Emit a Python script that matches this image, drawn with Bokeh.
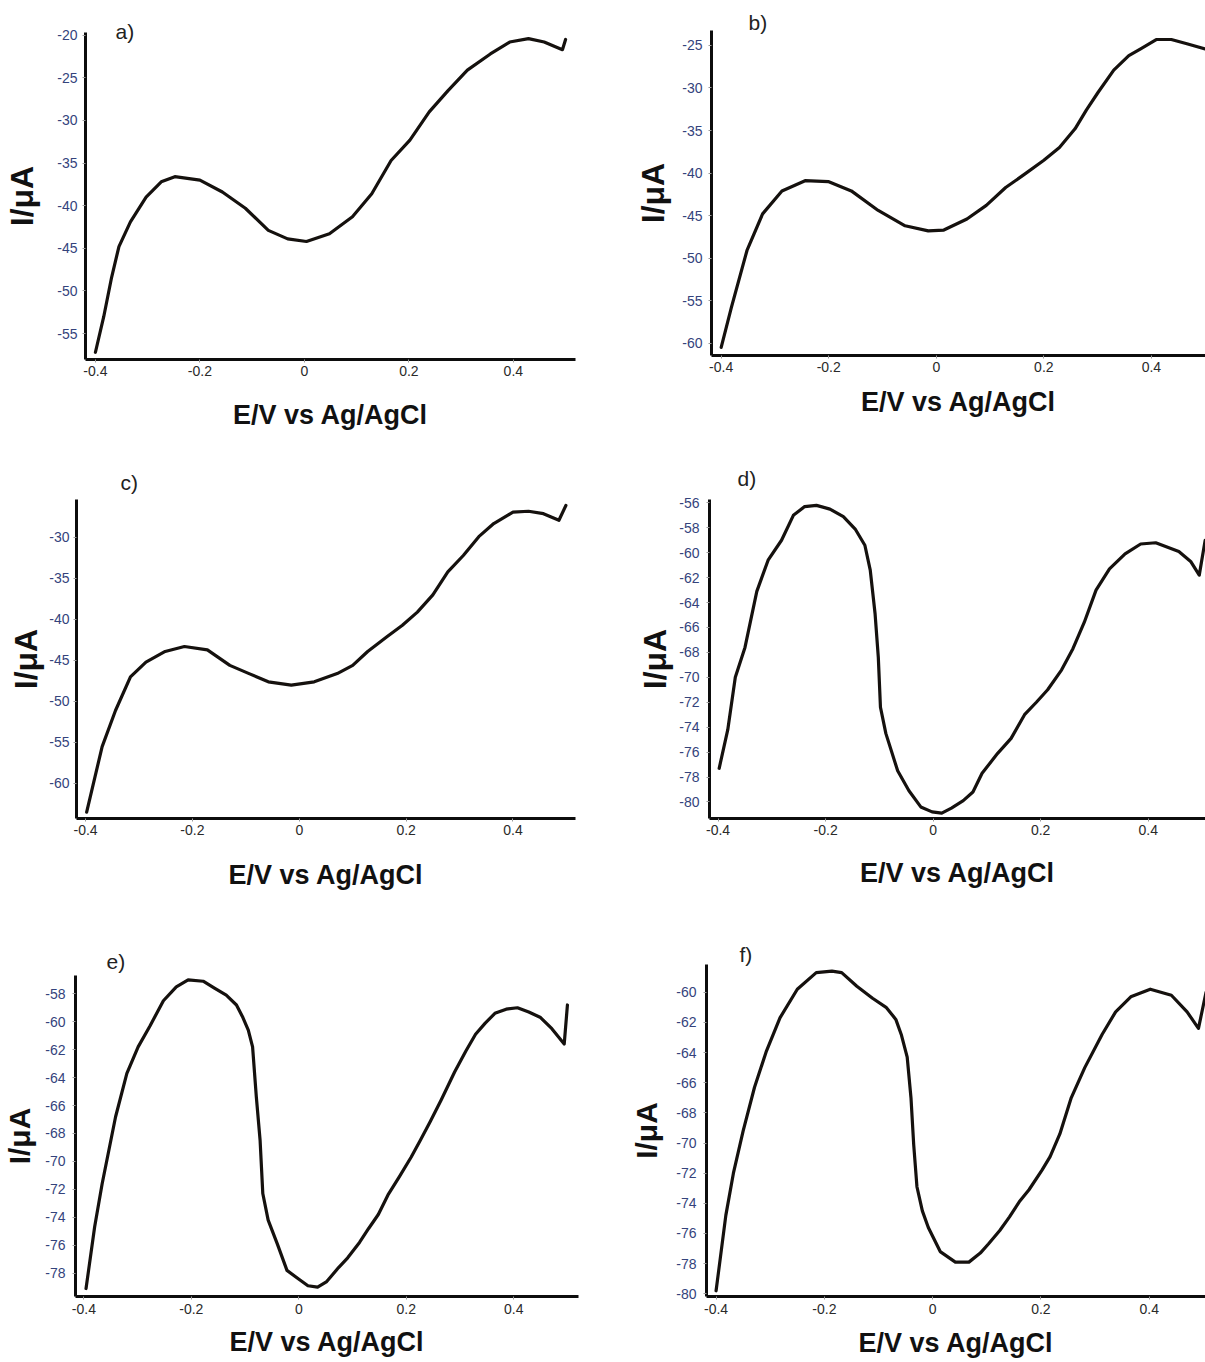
from bokeh.plotting import figure
from bokeh.layouts import column, row
from bokeh.models import Range1d, Title, FixedTicker
from bokeh.embed import file_html
from bokeh.resources import INLINE

# ---------------- data ----------------
x_ticks = [-0.4, -0.2, 0.0, 0.2, 0.4]
x_tick_labels = ["-0.4", "-0.2", "0", "0.2", "0.4"]

a_x = [-0.400, -0.384, -0.369, -0.355, -0.333, -0.303, -0.274, -0.248, -0.200, -0.157, -0.113, -0.069, -0.032, 0.004,
       0.048, 0.092, 0.129, 0.166, 0.202, 0.239, 0.275, 0.312, 0.356, 0.393, 0.429, 0.459, 0.494, 0.500]
a_y = [-57.2, -53.0, -48.4, -44.8, -41.9, -39.0, -37.2, -36.6, -37.0, -38.4, -40.3, -42.9, -43.9, -44.2,
       -43.3, -41.3, -38.6, -34.7, -32.3, -29.0, -26.5, -24.1, -22.2, -20.8, -20.4, -20.8, -21.7, -20.5]
a_yticks = [-55, -50, -45, -40, -35, -30, -25, -20]

b_x = [-0.400, -0.381, -0.352, -0.323, -0.287, -0.244, -0.201, -0.158, -0.108, -0.058, -0.015, 0.014, 0.057, 0.093,
       0.129, 0.165, 0.200, 0.229, 0.258, 0.279, 0.301, 0.330, 0.358, 0.380, 0.409, 0.437, 0.466, 0.500]
b_y = [-60.5, -55.8, -49.1, -44.8, -42.1, -40.9, -41.0, -42.1, -44.4, -46.2, -46.8, -46.7, -45.4, -43.8,
       -41.7, -40.1, -38.5, -37.0, -34.8, -32.6, -30.5, -27.9, -26.2, -25.4, -24.3, -24.3, -24.8, -25.4]
b_yticks = [-60, -55, -50, -45, -40, -35, -30, -25]

c_x = [-0.398, -0.369, -0.344, -0.316, -0.287, -0.251, -0.215, -0.172, -0.130, -0.094, -0.058, -0.015, 0.028, 0.071,
       0.100, 0.128, 0.164, 0.193, 0.221, 0.250, 0.278, 0.307, 0.336, 0.364, 0.400, 0.429, 0.457, 0.486, 0.499]
c_y = [-63.5, -55.5, -51.1, -47.0, -45.2, -43.9, -43.3, -43.7, -45.6, -46.6, -47.6, -48.0, -47.6, -46.6,
       -45.6, -43.9, -42.1, -40.7, -39.1, -37.0, -34.2, -32.2, -29.9, -28.3, -26.9, -26.8, -27.1, -27.9, -26.1]
c_yticks = [-60, -55, -50, -45, -40, -35, -30]

d_x = [-0.398, -0.382, -0.368, -0.350, -0.328, -0.307, -0.282, -0.260, -0.239, -0.217, -0.192, -0.167, -0.145, -0.127,
       -0.117, -0.108, -0.102, -0.098, -0.088, -0.066, -0.045, -0.023, -0.002, 0.016, 0.034, 0.056, 0.074, 0.091,
       0.120, 0.145, 0.170, 0.192, 0.213, 0.239, 0.260, 0.281, 0.303, 0.328, 0.357, 0.386, 0.414, 0.457, 0.479,
       0.495, 0.506]
d_y = [-77.3, -74.2, -70.0, -67.6, -63.1, -60.6, -59.0, -57.0, -56.3, -56.2, -56.5, -57.1, -58.1, -59.4,
       -61.4, -64.9, -68.4, -72.4, -74.5, -77.5, -79.1, -80.4, -80.8, -80.9, -80.5, -79.9, -79.2, -77.7,
       -76.1, -74.9, -73.0, -72.0, -71.0, -69.4, -67.7, -65.6, -63.0, -61.3, -60.1, -59.3, -59.2, -59.9, -60.7,
       -61.8, -59.0]
d_yticks = [-80, -78, -76, -74, -72, -70, -68, -66, -64, -62, -60, -58, -56]

e_x = [-0.396, -0.380, -0.366, -0.341, -0.320, -0.299, -0.277, -0.252, -0.228, -0.206, -0.178, -0.157, -0.135, -0.116,
       -0.104, -0.094, -0.086, -0.079, -0.072, -0.067, -0.057, -0.040, -0.022, -0.001, 0.017, 0.035, 0.052, 0.074,
       0.091, 0.113, 0.130, 0.148, 0.166, 0.187, 0.209, 0.226, 0.244, 0.265, 0.290, 0.311, 0.329, 0.347, 0.365,
       0.386, 0.407, 0.428, 0.450, 0.471, 0.494, 0.500]
e_y = [-79.1, -74.7, -71.6, -66.8, -63.7, -61.8, -60.3, -58.5, -57.5, -57.0, -57.1, -57.6, -58.1, -58.8,
       -59.7, -60.6, -61.8, -65.4, -68.5, -72.3, -74.2, -75.9, -77.8, -78.4, -78.9, -79.0, -78.6, -77.6,
       -76.9, -75.8, -74.8, -73.8, -72.4, -71.1, -69.7, -68.5, -67.2, -65.6, -63.6, -62.1, -60.9, -60.1, -59.4,
       -59.1, -59.0, -59.3, -59.7, -60.5, -61.6, -58.8]
e_yticks = [-78, -76, -74, -72, -70, -68, -66, -64, -62, -60, -58]

f_x = [-0.400, -0.382, -0.368, -0.350, -0.329, -0.307, -0.282, -0.250, -0.215, -0.186, -0.168, -0.140, -0.111, -0.086,
       -0.068, -0.058, -0.047, -0.040, -0.035, -0.029, -0.019, -0.008, 0.014, 0.042, 0.067, 0.088, 0.103, 0.124,
       0.142, 0.160, 0.178, 0.202, 0.217, 0.235, 0.256, 0.281, 0.313, 0.338, 0.366, 0.402, 0.441, 0.470, 0.491,
       0.505]
f_y = [-79.8, -74.8, -72.0, -69.2, -66.3, -63.9, -61.7, -59.8, -58.7, -58.6, -58.7, -59.6, -60.4, -61.0,
       -61.8, -62.8, -64.3, -67.0, -70.1, -72.9, -74.5, -75.6, -77.2, -77.9, -77.9, -77.3, -76.7, -75.8,
       -74.9, -73.9, -73.1, -71.8, -70.9, -69.4, -67.0, -65.0, -62.8, -61.3, -60.3, -59.8, -60.2, -61.3, -62.4,
       -60.0]
f_yticks = [-80, -78, -76, -74, -72, -70, -68, -66, -64, -62, -60]

panel_letters = ["a)", "b)", "c)", "d)", "e)", "f)"]
x_title = "E/V vs Ag/AgCl"
y_title = "I/\u03bcA"

TICK_FONT = "Liberation Sans"
MAIN_FONT = "Liberation Sans"


def panel(xs, ys, yticks, xr, yr, W, H, borders, letter, letter_pos,
          ylab_size=32, ystd=(5, 14), xstd=(3, 17)):
    bl, br, bt, bb = borders
    p = figure(width=W, height=H, x_range=Range1d(*xr), y_range=Range1d(*yr),
               output_backend="svg", toolbar_location=None,
               min_border_left=bl, min_border_right=br,
               min_border_top=bt, min_border_bottom=bb)
    # each panel keeps its own frame position (no frame alignment between neighbours)
    if "frame_align" in p.properties():
        p.frame_align = False
    p.outline_line_color = None
    p.grid.visible = False
    p.background_fill_color = "white"
    p.border_fill_color = "white"

    p.line(xs, ys, line_color="#15110e", line_width=3.2, line_join="round", line_cap="round")

    xa = p.xaxis[0]
    xa.ticker = FixedTicker(ticks=x_ticks)
    xa.major_label_overrides = {t: l for t, l in zip(x_ticks, x_tick_labels)}
    xa.axis_label = x_title
    xa.axis_label_text_font = MAIN_FONT
    xa.axis_label_text_font_style = "bold"
    xa.axis_label_text_font_size = "27px"
    xa.axis_label_text_color = "#111111"
    xa.major_label_text_font = TICK_FONT
    xa.major_label_text_font_size = "14px"
    xa.major_label_text_color = "#2a2a2a"
    xa.major_label_standoff = xstd[0]
    xa.axis_label_standoff = xstd[1]

    ya = p.yaxis[0]
    ya.ticker = FixedTicker(ticks=yticks)
    ya.major_label_overrides = {t: str(t) for t in yticks}
    ya.axis_label = y_title
    ya.axis_label_text_font = MAIN_FONT
    ya.axis_label_text_font_style = "bold"
    ya.axis_label_text_font_size = f"{ylab_size}px"
    ya.axis_label_text_color = "#111111"
    ya.major_label_text_font = TICK_FONT
    ya.major_label_text_font_size = "14px"
    ya.major_label_text_color = "#34437c"
    ya.major_label_standoff = ystd[0]
    ya.axis_label_standoff = ystd[1]

    for ax in (xa, ya):
        ax.axis_line_color = "#0d0d0d"
        ax.axis_line_width = 3
        ax.major_tick_in = 0
        ax.major_tick_out = 3
        ax.major_tick_line_color = "#9a9a9a"
        ax.major_tick_line_width = 1
        ax.minor_tick_line_color = None

    # panel letter as a title above the frame (offset from frame left, standoff from frame top)
    p.add_layout(Title(text=letter, align="left", offset=letter_pos[0], standoff=letter_pos[1],
                       text_font=MAIN_FONT, text_font_style="normal", text_font_size="21px",
                       text_color="#222222"), "above")
    return p


fa = panel(a_x, a_y, a_yticks, (-0.419, 0.519), (-58.05, -19.68), 600, 440,
           (85, 25, 32, 81), panel_letters[0], (30, -20),
           ylab_size=32, ystd=(5, 14), xstd=(3, 21))
fb = panel(b_x, b_y, b_yticks, (-0.418, 0.5006), (-61.45, -23.24), 605, 440,
           (111, 0, 30, 85), panel_letters[1], (37, -6),
           ylab_size=32, ystd=(6, 8), xstd=(3, 12))
fc = panel(c_x, c_y, c_yticks, (-0.417, 0.517), (-64.27, -25.37), 600, 455,
           (76, 25, 59, 77), panel_letters[2], (44, 11),
           ylab_size=32, ystd=(4, 2), xstd=(3, 22))
fd = panel(d_x, d_y, d_yticks, (-0.416, 0.5066), (-81.33, -55.73), 605, 455,
           (109, 0, 59, 77), panel_letters[3], (28, 20),
           ylab_size=32, ystd=(7, 3), xstd=(3, 20))
fe = panel(e_x, e_y, e_yticks, (-0.4156, 0.5206), (-79.67, -56.69), 600, 467,
           (73, 22, 80, 66), panel_letters[4], (31, 5),
           ylab_size=30, ystd=(7, 6), xstd=(4, 10))
ff = panel(f_x, f_y, f_yticks, (-0.4177, 0.504), (-80.18, -58.16), 605, 467,
           (106, 0, 69, 66), panel_letters[5], (33, -3),
           ylab_size=30, ystd=(7, 10), xstd=(4, 11))

layout = column(row(fa, fb), row(fc, fd), row(fe, ff))

open("out.html", "w").write(file_html(layout, INLINE))
